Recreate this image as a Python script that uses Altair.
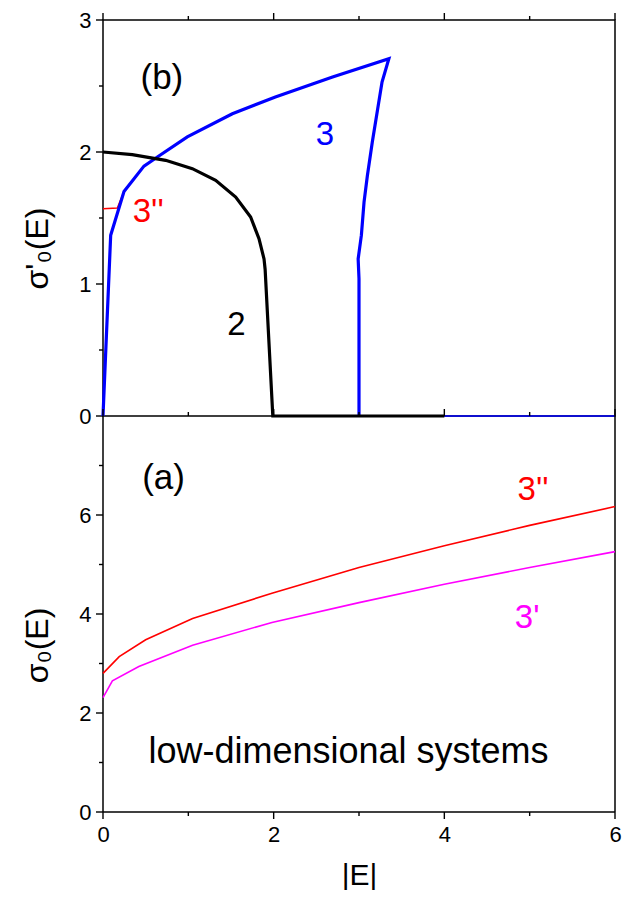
import altair as alt
import pandas as pd

FONT = "Liberation Sans"

# ---------------- panel (b) data ----------------
E2 = [0.0, 0.343, 0.734, 1.047, 1.32, 1.555, 1.73, 1.828, 1.887, 1.90, 1.99, 4.0]
S2 = [2.0, 1.98, 1.937, 1.874, 1.786, 1.659, 1.508, 1.343, 1.19, 1.11, 0.0, 0.0]

E3 = [0.0, 0.09, 0.246, 0.48, 0.637, 0.988, 1.516, 2.02, 2.69, 3.35,
      3.27, 3.156, 3.098, 3.059, 3.028, 2.99, 3.0, 3.0]
S3 = [0.0, 1.37, 1.70, 1.893, 1.962, 2.114, 2.29, 2.417, 2.568, 2.707,
      2.53, 2.076, 1.82, 1.62, 1.37, 1.19, 1.04, 0.0]

E3_tail = [3.0, 6.0]
S3_tail = [0.0, 0.0]

E3pp_b = [0.0, 0.168, 0.246, 0.48]
S3pp_b = [1.57, 1.575, 1.70, 1.893]

# ---------------- panel (a) data ----------------
E3pp = [0.0, 0.19, 0.5, 1.05, 1.98, 3.0, 4.0, 5.0, 6.0]
S3pp = [2.80, 3.14, 3.48, 3.91, 4.42, 4.94, 5.38, 5.79, 6.17]

E3p = [0.0, 0.11, 0.42, 1.05, 1.98, 3.0, 4.0, 5.0, 6.0]
S3p = [2.31, 2.65, 2.94, 3.37, 3.83, 4.23, 4.60, 4.94, 5.26]

# ---------------- annotations ----------------
top_text = ["(b)", "3''", "3", "2"]
top_tx = [0.69, 0.53, 2.60, 1.565]
top_ty = [2.475, 1.47, 2.05, 0.611]
top_col = ["black", "red", "blue", "black"]
top_size = [35, 33, 33, 33]

bot_text = ["(a)", "3''", "3'", "low-dimensional systems"]
bot_tx = [0.71, 5.04, 4.97, 2.877]
bot_ty = [6.52, 6.30, 3.71, 1.0]
bot_col = ["black", "red", "magenta", "black"]
bot_size = [35, 33, 33, 36]

# ---------------- ticks ----------------
x_major = [0, 2, 4, 6]
x_minor = [1, 3, 5]
y_top_major = [0, 1, 2, 3]
y_top_minor = [0.5, 1.5, 2.5]
y_bot_major = [0, 2, 4, 6]
y_bot_minor = [1, 3, 5, 7]

W = 512
H_TOP = 396
H_BOT = 396
MAJ = 7
MIN = 4
TW = 1.4

xscale = alt.Scale(domain=[0, 6], nice=False, zero=False)
ytop_scale = alt.Scale(domain=[0, 3], nice=False, zero=False)
ybot_scale = alt.Scale(domain=[0, 8], nice=False, zero=False)

x_bottom_axis = alt.Axis(orient="bottom", values=x_major, title="|E|", format="d",
                         ticks=False, domain=False, grid=False,
                         labelFlush=False, labelOverlap=False, labelPadding=MAJ + 5,
                         titleY=72, titleBaseline="alphabetic", titleFontSize=30)

y_top_axis = alt.Axis(values=y_top_major, title="σ'₀(E)", format="d",
                      ticks=False, domain=False, grid=False,
                      labelOverlap=False, labelFlush=False, labelPadding=MAJ + 5,
                      titleX=-56, titleY=H_TOP / 2 + 30, titleBaseline="alphabetic",
                      titleAngle=270, titleAlign="center")
y_bot_axis = alt.Axis(values=y_bot_major, title="σ₀(E)", format="d",
                      ticks=False, domain=False, grid=False,
                      labelOverlap=False, labelFlush=False, labelPadding=MAJ + 5,
                      titleX=-56, titleY=H_BOT / 2 + 31, titleBaseline="alphabetic",
                      titleAngle=270, titleAlign="center")


def frame(xs, ys):
    return pd.DataFrame({"E": xs, "S": ys, "i": list(range(len(xs)))})


def xrules(vals, y0, y1, xaxis):
    return alt.Chart(pd.DataFrame({"v": vals})).mark_rule(color="black", strokeWidth=TW).encode(
        x=alt.X("v:Q", scale=xscale, axis=xaxis),
        y=alt.value(y0), y2=alt.value(y1),
    )


def yrules(vals, length, yscale, yaxis):
    return alt.Chart(pd.DataFrame({"v": vals})).mark_rule(color="black", strokeWidth=TW).encode(
        y=alt.Y("v:Q", scale=yscale, axis=yaxis),
        x=alt.value(-length), x2=alt.value(0),
    )


# ---------------- top panel (b) ----------------
def top_line(df, color, width):
    return alt.Chart(df).mark_line(color=color, strokeWidth=width).encode(
        x=alt.X("E:Q", scale=xscale, axis=None),
        y=alt.Y("S:Q", scale=ytop_scale, axis=y_top_axis),
        order="i:Q",
    )


top_labels = pd.DataFrame({"t": top_text, "E": top_tx, "S": top_ty,
                           "c": top_col, "s": top_size})
top_txt = alt.Chart(top_labels).mark_text(font=FONT, align="center", baseline="alphabetic").encode(
    x=alt.X("E:Q", scale=xscale, axis=None),
    y=alt.Y("S:Q", scale=ytop_scale, axis=y_top_axis),
    text="t:N",
    color=alt.Color("c:N", scale=None),
    size=alt.Size("s:Q", scale=None),
)

top = alt.layer(
    xrules(x_major, -MAJ, 0, None),
    xrules(x_minor, -MIN, 0, None),
    yrules(y_top_major, MAJ, ytop_scale, y_top_axis),
    yrules(y_top_minor, MIN, ytop_scale, y_top_axis),
    top_line(frame(E3_tail, S3_tail), "blue", 1.6),
    top_line(frame(E3pp_b, S3pp_b), "red", 1.5),
    top_line(frame(E3, S3), "blue", 3.2),
    top_line(frame(E2, S2), "black", 3.2),
    top_txt,
).properties(width=W, height=H_TOP)


# ---------------- bottom panel (a) ----------------
def bot_line(df, color, width):
    return alt.Chart(df).mark_line(color=color, strokeWidth=width).encode(
        x=alt.X("E:Q", scale=xscale, axis=x_bottom_axis),
        y=alt.Y("S:Q", scale=ybot_scale, axis=y_bot_axis),
        order="i:Q",
    )


one = pd.DataFrame({"k": [0]})
edge_left = alt.Chart(one).mark_rule(color="black", strokeWidth=1.5).encode(
    x=alt.value(0), y=alt.value(0), y2=alt.value(H_BOT))
edge_right = alt.Chart(one).mark_rule(color="black", strokeWidth=1.5).encode(
    x=alt.value(W), y=alt.value(0), y2=alt.value(H_BOT))
edge_bottom = alt.Chart(one).mark_rule(color="black", strokeWidth=1.5).encode(
    y=alt.value(H_BOT), x=alt.value(0), x2=alt.value(W))

bot_labels = pd.DataFrame({"t": bot_text, "E": bot_tx, "S": bot_ty,
                           "c": bot_col, "s": bot_size})
bot_txt = alt.Chart(bot_labels).mark_text(font=FONT, align="center", baseline="alphabetic").encode(
    x=alt.X("E:Q", scale=xscale, axis=x_bottom_axis),
    y=alt.Y("S:Q", scale=ybot_scale, axis=y_bot_axis),
    text="t:N",
    color=alt.Color("c:N", scale=None),
    size=alt.Size("s:Q", scale=None),
)

bottom = alt.layer(
    edge_left, edge_right, edge_bottom,
    xrules(x_major, -MAJ, 0, x_bottom_axis),
    xrules(x_minor, -MIN, 0, x_bottom_axis),
    xrules(x_major, H_BOT, H_BOT + MAJ, x_bottom_axis),
    xrules(x_minor, H_BOT, H_BOT + MIN, x_bottom_axis),
    yrules(y_bot_major, MAJ, ybot_scale, y_bot_axis),
    yrules(y_bot_minor, MIN, ybot_scale, y_bot_axis),
    bot_line(frame(E3pp, S3pp), "red", 1.6),
    bot_line(frame(E3p, S3p), "magenta", 1.6),
    bot_txt,
).properties(width=W, height=H_BOT, view=alt.ViewBackground(strokeOpacity=0))

chart = alt.vconcat(top, bottom, spacing=0, bounds="flush").properties(
    padding={"left": 12, "top": 0, "right": 0, "bottom": 0}
).configure_view(
    stroke="black", strokeWidth=1.5
).configure_axis(
    labelFont=FONT, titleFont=FONT, labelFontSize=22, titleFontSize=32,
    titleFontWeight="normal", labelColor="black", titleColor="black",
)

chart.save("out.html", embed_options={"renderer": "svg", "actions": False})
